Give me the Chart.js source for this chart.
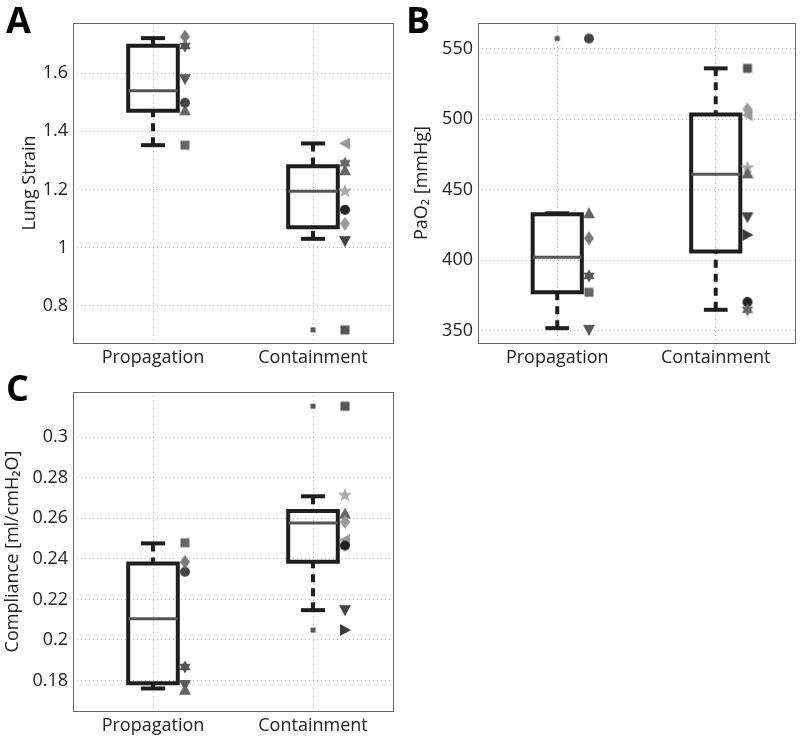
<!DOCTYPE html>
<html>
<head>
<meta charset="utf-8">
<script src="https://cdn.jsdelivr.net/npm/chart.js@4.4.0/dist/chart.umd.min.js"></script>
<style>
  body { margin: 0; background: #fff; width: 800px; height: 738px; position: relative; overflow: hidden; }
  canvas { position: absolute; }
  .panel { position: absolute; font: bold 36px "Open Sans", sans-serif; color: #000; line-height: 1; }
</style>
</head>
<body>
<canvas id="chartA" width="400" height="380" style="left:0;top:0"></canvas>
<canvas id="chartB" width="400" height="380" style="left:400px;top:0"></canvas>
<canvas id="chartC" width="400" height="370" style="left:0;top:368px"></canvas>
<div class="panel" style="left:6px;top:2px">A</div>
<div class="panel" style="left:406px;top:2px">B</div>
<div class="panel" style="left:6px;top:370px">C</div>
<script>
const groups = ['Propagation', 'Containment'];

// box statistics, [Propagation, Containment]
const strainLow = [1.352, 1.03];
const strainQ1 = [1.47, 1.07];
const strainMedian = [1.539, 1.194];
const strainQ3 = [1.694, 1.28];
const strainHigh = [1.72, 1.358];
const strainOutliers = [[], [0.717]];
const strainTicks = [0.8, 1, 1.2, 1.4, 1.6];

const pao2Low = [352, 365];
const pao2Q1 = [377.4, 406.2];
const pao2Median = [402.2, 461];
const pao2Q3 = [432.6, 503.3];
const pao2High = [433.3, 535.9];
const pao2Outliers = [[557], []];
const pao2Ticks = [350, 400, 450, 500, 550];

const compLow = [0.1761, 0.2147];
const compQ1 = [0.1787, 0.2385];
const compMedian = [0.2104, 0.2577];
const compQ3 = [0.2377, 0.2636];
const compHigh = [0.2476, 0.2708];
const compOutliers = [[], [0.3152, 0.2049]];
const compTicks = [0.18, 0.2, 0.22, 0.24, 0.26, 0.28, 0.3];

// individual animals, one marker each, [Propagation, Containment]
const strainSquare = [1.352, 0.717];
const strainDiamond = [1.725, 1.082];
const strainHexagram = [1.693, 1.29];
const strainTriDown = [1.579, 1.022];
const strainCircle = [1.498, 1.13];
const strainTriUp = [1.472, 1.266];
const strainTriLeft = [null, 1.358];
const strainPentagram = [null, 1.194];
const strainTriRight = [null, null];

const pao2Square = [377.4, 535.9];
const pao2Diamond = [415.6, 506.9];
const pao2Hexagram = [389, 365];
const pao2TriDown = [350.8, 430.5];
const pao2Circle = [557, 370.5];
const pao2TriUp = [433.3, 461.6];
const pao2TriLeft = [null, 502.8];
const pao2Pentagram = [null, 465.6];
const pao2TriRight = [null, 418];

const compSquare = [0.2479, 0.3152];
const compDiamond = [0.2385, 0.2582];
const compHexagram = [0.1867, null];
const compTriDown = [0.1778, 0.2147];
const compCircle = [0.2336, 0.2465];
const compTriUp = [0.1755, 0.2623];
const compTriLeft = [null, 0.2493];
const compPentagram = [null, 0.2713];
const compTriRight = [null, 0.2049];

// marker colours per group
const markerColors = {
  square: ['#666', '#555'],
  diamond: ['#7a7a7a', '#9a9a9a'],
  hexagram: ['#555', '#666'],
  triDown: ['#5a5a5a', '#444'],
  circle: ['#444', '#222'],
  triUp: ['#666', '#666'],
  triLeft: ['#999', '#999'],
  pentagram: ['#aaa', '#aaa'],
  triRight: ['#3a3a3a', '#3a3a3a']
};

const BOX = 0.155, CAP = 0.075, OFFSET = 0.2;
const FONT = { family: '"Open Sans", sans-serif', size: 18 };

function glyph(shape, color) {
  const c = document.createElement('canvas');
  c.width = c.height = 18;
  const g = c.getContext('2d');
  g.fillStyle = color;
  g.translate(9, 9);
  g.beginPath();
  const poly = (pts) => {
    pts.forEach(([x, y], i) => (i ? g.lineTo(x, y) : g.moveTo(x, y)));
    g.closePath();
  };
  const star = (n, ro, ri) => {
    const pts = [];
    for (let k = 0; k < 2 * n; k++) {
      const r = k % 2 ? ri : ro;
      const a = -Math.PI / 2 + (k * Math.PI) / n;
      pts.push([r * Math.cos(a), r * Math.sin(a)]);
    }
    poly(pts);
  };
  switch (shape) {
    case 'square': g.rect(-4.5, -4.5, 9, 9); break;
    case 'dot': g.rect(-2.5, -2.5, 5, 5); break;
    case 'circle': g.arc(0, 0, 5, 0, Math.PI * 2); break;
    case 'diamond': poly([[0, -7], [5, 0], [0, 7], [-5, 0]]); break;
    case 'triUp': poly([[0, -6], [6, 5], [-6, 5]]); break;
    case 'triDown': poly([[0, 6], [6, -5], [-6, -5]]); break;
    case 'triLeft': poly([[-6, 0], [5, -6], [5, 6]]); break;
    case 'triRight': poly([[6, 0], [-5, -6], [-5, 6]]); break;
    case 'pentagram': star(5, 7.5, 3.1); break;
    case 'hexagram': star(6, 6.5, 3.8); break;
  }
  g.fill();
  return c;
}

function boxDatasets(low, q1, med, q3, high) {
  const ds = [];
  const line = (pts, extra) =>
    ds.push(Object.assign({
      data: pts, showLine: true, borderColor: '#1e1e1e', borderWidth: 4,
      pointRadius: 0, borderCapStyle: 'butt', borderJoinStyle: 'miter'
    }, extra));
  groups.forEach((g, i) => {
    const x = i + 1;
    line([{ x: x, y: high[i] }, { x: x, y: q3[i] }], { borderDash: [8, 6] });
    line([{ x: x, y: low[i] }, { x: x, y: q1[i] }], { borderDash: [8, 6] });
    line([{ x: x - CAP, y: high[i] }, { x: x + CAP, y: high[i] }]);
    line([{ x: x - CAP, y: low[i] }, { x: x + CAP, y: low[i] }]);
    line([{ x: x - BOX, y: med[i] }, { x: x + BOX, y: med[i] }], { borderColor: '#555', borderWidth: 3 });
    line([
      { x: x, y: q1[i] }, { x: x + BOX, y: q1[i] }, { x: x + BOX, y: q3[i] },
      { x: x - BOX, y: q3[i] }, { x: x - BOX, y: q1[i] }, { x: x, y: q1[i] }
    ]);
  });
  return ds;
}

function markerDatasets(series, outliers) {
  const ds = [];
  Object.keys(series).forEach((shape) => {
    groups.forEach((g, i) => {
      const v = series[shape][i];
      if (v == null) return;
      ds.push({ data: [{ x: i + 1 + OFFSET, y: v }], pointStyle: glyph(shape, markerColors[shape][i]) });
    });
  });
  groups.forEach((g, i) => {
    if (!outliers[i].length) return;
    ds.push({ data: outliers[i].map((v) => ({ x: i + 1, y: v })), pointStyle: glyph('dot', '#555') });
  });
  return ds;
}

const frame = {
  id: 'frame',
  afterDraw(chart) {
    const a = chart.chartArea, ctx = chart.ctx;
    ctx.save();
    ctx.strokeStyle = '#666';
    ctx.lineWidth = 1;
    ctx.strokeRect(Math.round(a.left) + 0.5, Math.round(a.top) + 0.5, Math.round(a.right - a.left), Math.round(a.bottom - a.top));
    ctx.restore();
  }
};

function makeChart(id, cfg) {
  const datasets = markerDatasets(cfg.series, cfg.outliers)
    .concat(boxDatasets(cfg.low, cfg.q1, cfg.med, cfg.q3, cfg.high));
  return new Chart(document.getElementById(id), {
    type: 'scatter',
    data: { datasets: datasets },
    options: {
      responsive: false,
      animation: false,
      devicePixelRatio: 1,
      layout: { padding: cfg.padding },
      plugins: { legend: { display: false }, tooltip: { enabled: false } },
      scales: {
        x: {
          type: 'linear', min: 0.5, max: 2.5,
          afterBuildTicks: (s) => { s.ticks = groups.map((g, i) => ({ value: i + 1 })); },
          afterFit: (s) => { s.height = cfg.xHeight; },
          ticks: { callback: (v) => groups[v - 1], font: FONT, color: '#222', padding: 4, maxRotation: 0 },
          grid: { color: '#b4b4b4', drawTicks: false },
          border: { display: false, dash: [1, 3] }
        },
        y: {
          min: cfg.min, max: cfg.max,
          afterBuildTicks: (s) => { s.ticks = cfg.ticks.map((v) => ({ value: v })); },
          afterFit: (s) => { s.width = cfg.yWidth; },
          ticks: { callback: (v) => String(v), font: FONT, color: '#222', padding: 5 },
          grid: { color: '#b4b4b4', drawTicks: false },
          border: { display: false, dash: [1, 3] },
          title: { display: true, text: cfg.title, font: FONT, color: '#222', padding: { top: cfg.titlePad, bottom: 0 } }
        }
      }
    },
    plugins: [frame]
  });
}

makeChart('chartA', {
  low: strainLow, q1: strainQ1, med: strainMedian, q3: strainQ3, high: strainHigh,
  outliers: strainOutliers, ticks: strainTicks, min: 0.672, max: 1.772,
  series: {
    square: strainSquare, diamond: strainDiamond, hexagram: strainHexagram, triDown: strainTriDown,
    circle: strainCircle, triUp: strainTriUp, triLeft: strainTriLeft, pentagram: strainPentagram, triRight: strainTriRight
  },
  title: 'Lung Strain', titlePad: 19, yWidth: 73, xHeight: 37,
  padding: { top: 23, right: 7, left: 0, bottom: 0 }
});

makeChart('chartB', {
  low: pao2Low, q1: pao2Q1, med: pao2Median, q3: pao2Q3, high: pao2High,
  outliers: pao2Outliers, ticks: pao2Ticks, min: 341.5, max: 568,
  series: {
    square: pao2Square, diamond: pao2Diamond, hexagram: pao2Hexagram, triDown: pao2TriDown,
    circle: pao2Circle, triUp: pao2TriUp, triLeft: pao2TriLeft, pentagram: pao2Pentagram, triRight: pao2TriRight
  },
  title: 'PaO\u2082 [mmHg]', titlePad: 11, yWidth: 78, xHeight: 37,
  padding: { top: 23, right: 2, left: 0, bottom: 0 }
});

makeChart('chartC', {
  low: compLow, q1: compQ1, med: compMedian, q3: compQ3, high: compHigh,
  outliers: compOutliers, ticks: compTicks, min: 0.165, max: 0.3222,
  series: {
    square: compSquare, diamond: compDiamond, hexagram: compHexagram, triDown: compTriDown,
    circle: compCircle, triUp: compTriUp, triLeft: compTriLeft, pentagram: compPentagram, triRight: compTriRight
  },
  title: 'Compliance [ml/cmH\u2082O]', titlePad: 2, yWidth: 73, xHeight: 27,
  padding: { top: 24, right: 7, left: 0, bottom: 0 }
});
</script>
</body>
</html>
